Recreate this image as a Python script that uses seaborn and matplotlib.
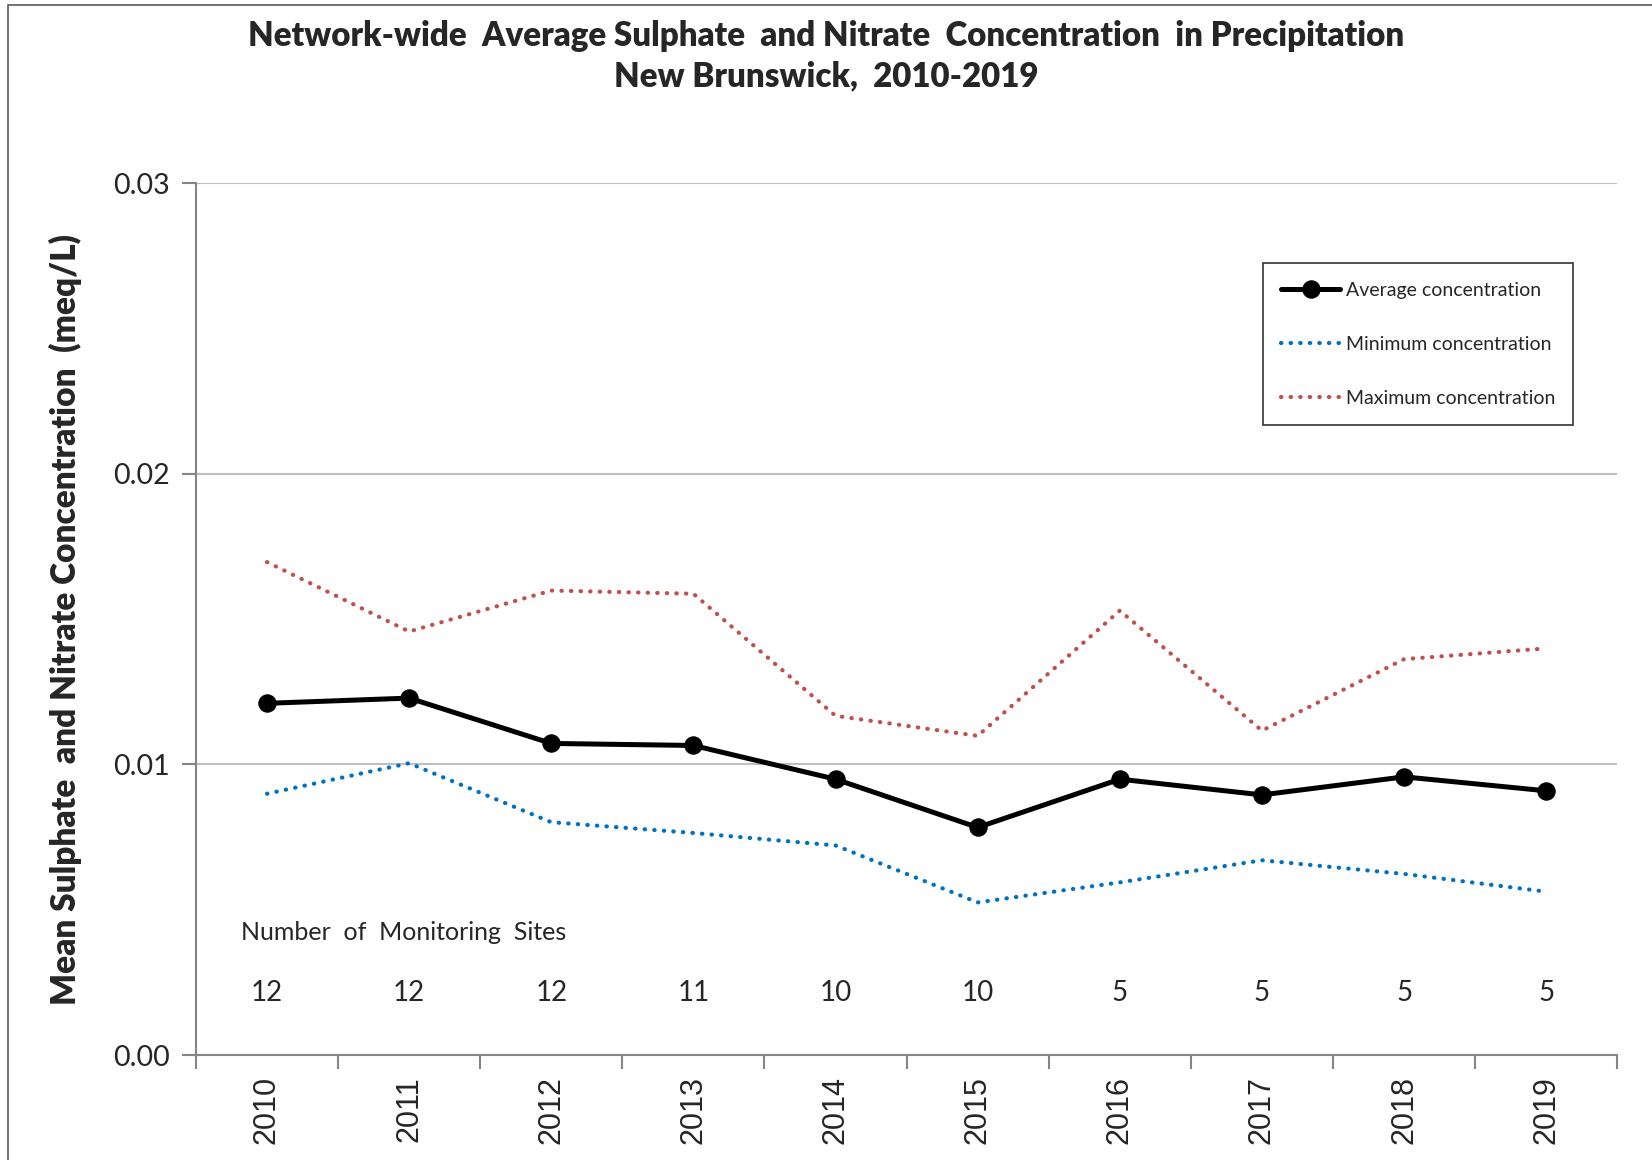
import matplotlib
matplotlib.use("Agg")
import matplotlib.pyplot as plt
from matplotlib.patches import Rectangle
from matplotlib.ticker import FixedLocator, FormatStrFormatter
import seaborn as sns
import pandas as pd

# values (meq/L)
years = ["2010", "2011", "2012", "2013", "2014", "2015", "2016", "2017", "2018", "2019"]
avg_conc = [0.0121, 0.01228, 0.01072, 0.01065, 0.00949, 0.00783, 0.00949, 0.00895, 0.00957, 0.00909]
min_conc = [0.00899, 0.01004, 0.00801, 0.00764, 0.00721, 0.00525, 0.00594, 0.0067, 0.00623, 0.00562]
max_conc = [0.01696, 0.01457, 0.01598, 0.01587, 0.01167, 0.01098, 0.01529, 0.01116, 0.01362, 0.01399]
n_sites = [12, 12, 12, 11, 10, 10, 5, 5, 5, 5]

df = pd.DataFrame({"Year": years, "Average": avg_conc, "Minimum": min_conc, "Maximum": max_conc})

sns.set_style("white")
plt.rcParams["font.family"] = ["Lato", "DejaVu Sans"]

fig = plt.figure(figsize=(16.52, 11.6), dpi=100)
ax = fig.add_axes([0.1186, 0.0905, 0.8604, 0.7517])

sns.lineplot(data=df, x="Year", y="Average", ax=ax, color="black", lw=3.6,
             marker="o", markersize=12.5, markeredgecolor="black",
             label="Average concentration", zorder=4)
sns.lineplot(data=df, x="Year", y="Minimum", ax=ax, color="#0070C0", lw=3,
             linestyle=(0, (0.1, 2.2)), dash_capstyle="round",
             label="Minimum concentration", zorder=3)
sns.lineplot(data=df, x="Year", y="Maximum", ax=ax, color="#C0504D", lw=3,
             linestyle=(0, (0.1, 2.2)), dash_capstyle="round",
             label="Maximum concentration", zorder=3)

# site counts
ax.text(-0.18, 0.0042, "Number  of  Monitoring  Sites", fontsize=18, va="center", ha="left")
for i, n in enumerate(n_sites):
    ax.text(i, 0.00212, str(n), fontsize=20, ha="center", va="center")

ax.set_xlim(-0.5, 9.5)
ax.set_ylim(0, 0.03)
ax.yaxis.set_major_locator(FixedLocator([0, 0.01, 0.02, 0.03]))
ax.yaxis.set_major_formatter(FormatStrFormatter("%.2f"))
ax.grid(axis="y", color="#BFBFBF", lw=1.5)
ax.grid(axis="x", visible=False)
ax.set_axisbelow(True)

for s in ["top", "right"]:
    ax.spines[s].set_visible(False)
for s in ["left", "bottom"]:
    ax.spines[s].set_color("#868686")
    ax.spines[s].set_linewidth(1.5)

ax.set_xticks(range(len(years)))
ax.set_xticklabels(years, rotation=90, fontsize=22, family=["Liberation Sans"])
ax.set_xticks([i - 0.5 for i in range(len(years) + 1)], minor=True)
ax.tick_params(axis="x", which="major", length=0, pad=15)
ax.tick_params(axis="x", which="minor", length=10, width=1.5, color="#868686", direction="out")
ax.tick_params(axis="y", which="major", length=10, width=1.5, color="#868686",
               direction="out", labelsize=20.5, pad=9)
ax.yaxis.set_tick_params(which="major", left=True)
ax.xaxis.set_tick_params(which="minor", bottom=True)

ax.set_xlabel("")
ax.set_ylabel("Mean Sulphate  and Nitrate Concentration  (meq/L)", fontsize=24,
              fontweight="heavy", labelpad=22)

leg = ax.legend(loc="upper right", bbox_to_anchor=(0.976, 0.919), fontsize=14,
                frameon=True, fancybox=False, edgecolor="black", labelspacing=1.9,
                handlelength=3.0, handletextpad=0.3, borderpad=0.95)
leg.get_frame().set_linewidth(1.2)

fig.suptitle("Network-wide  Average Sulphate  and Nitrate  Concentration  in Precipitation\nNew Brunswick,  2010-2019",
             fontsize=23.8, fontweight="heavy", y=0.983, linespacing=1.33)

fig.add_artist(Rectangle((8 / 1652, -0.01), 1.02, 1 - 5 / 1160 + 0.01, transform=fig.transFigure,
                         fill=False, edgecolor="#595959", lw=1.2, clip_on=False))

fig.savefig("out.png", dpi=100)
